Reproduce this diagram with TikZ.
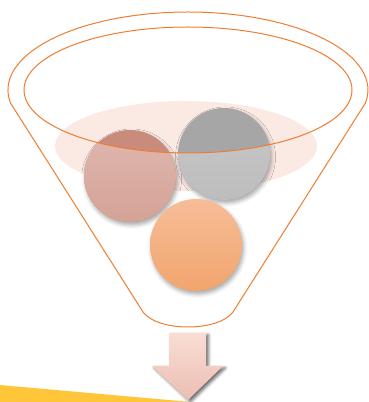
\documentclass[tikz,border=0pt]{standalone}
\usetikzlibrary{shadows.blur}
\definecolor{funnelorange}{HTML}{ED7D31}
\definecolor{pinkglow}{HTML}{FBE9E4}
\definecolor{brownA}{HTML}{C98B7B}
\definecolor{brownB}{HTML}{DFB7AE}
\definecolor{brownC}{HTML}{D4A396}
\definecolor{grayA}{HTML}{A6A6A6}
\definecolor{grayB}{HTML}{C8C8C8}
\definecolor{grayC}{HTML}{BDBDBD}
\definecolor{orangeA}{HTML}{F6BD98}
\definecolor{orangeB}{HTML}{F2A56E}
\definecolor{arrowA}{HTML}{F9DDD4}
\definecolor{arrowB}{HTML}{ECBEB2}
\definecolor{band}{HTML}{FFC63A}
\tikzset{
  funnelline/.style={draw=funnelorange, line width=1pt},
  ballshadow/.style={blur shadow={shadow xshift=1.5pt, shadow yshift=-3pt, shadow blur radius=4pt, shadow opacity=35}},
}
\begin{document}
\begin{tikzpicture}[x=1pt,y=1pt]
\useasboundingbox (0,0) rectangle (369,402);
% yellow band
\fill[band] (0,17) -- (191,0) -- (0,0) -- cycle;
% pink glow
\fill[pinkglow] (186,256) ellipse [x radius=131, y radius=45];
% balls (dark part with shadow)
\path[ballshadow, fill=brownA] (130,226) circle (46);
\path[ballshadow, fill=grayA] (224,248) circle (46);
\path[ballshadow, top color=orangeA, bottom color=orangeB] (196,157) circle (46);
% lighter parts below the mouth
\begin{scope}
  \clip (24,312) arc[start angle=180, end angle=360, x radius=164, y radius=63]
    -- (369,312) -- (369,0) -- (0,0) -- (0,312) -- cycle;
  \shade[top color=brownB, bottom color=brownC] (130,226) circle (46);
  \shade[top color=grayB, bottom color=grayC] (224,248) circle (46);
\end{scope}
% funnel
\draw[funnelline] (10.5,299) arc[start angle=189.6, end angle=-9.6, x radius=180, y radius=78]
  -- (233,90) .. controls (218,70) and (158,70) .. (143,90) -- cycle;
\draw[funnelline] (188,312) ellipse [x radius=164, y radius=63];
% arrow
\path[blur shadow={shadow xshift=2.5pt, shadow yshift=-2pt, shadow blur radius=3pt, shadow opacity=60},
      top color=arrowA, bottom color=arrowB]
  (169,69) -- (206,69) -- (206,36) -- (223,36) -- (188,2) -- (152,36) -- (169,36) -- cycle;
\end{tikzpicture}
\end{document}
